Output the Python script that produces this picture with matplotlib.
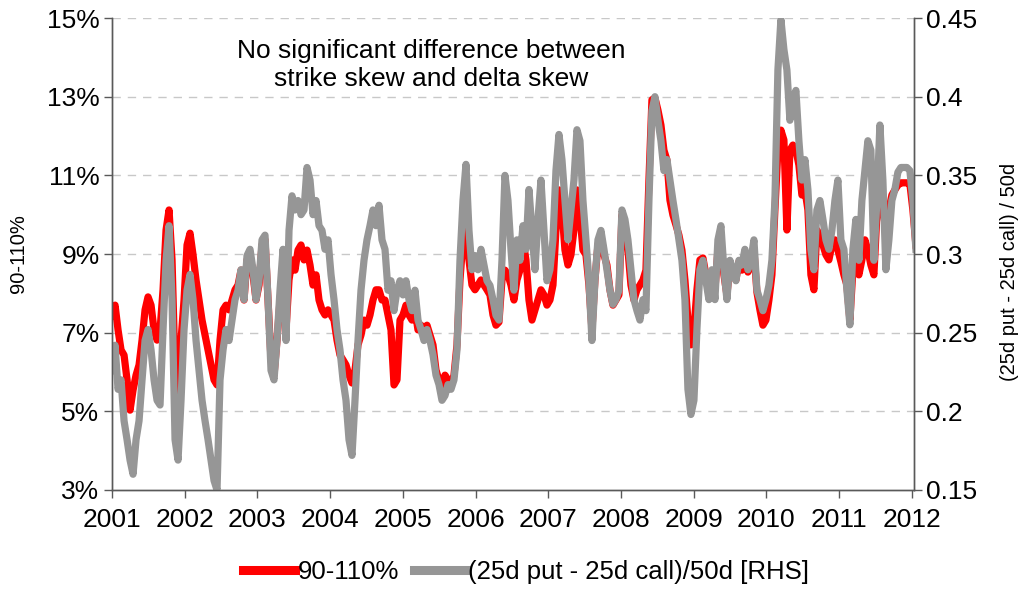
import numpy as np
import pandas as pd
import matplotlib
matplotlib.use("Agg")
import matplotlib.pyplot as plt
import matplotlib.dates as mdates
from matplotlib.ticker import FixedLocator, FuncFormatter

plt.rcParams['font.family'] = ['Liberation Sans', 'DejaVu Sans']

# ---- data ----
start_date = "2001-01-01"
end_date = "2012-01-22"

# (25d put - 25d call)/50d  [RHS]
delta_skew = [
    0.226, 0.242, 0.214, 0.220, 0.194, 0.182, 0.169, 0.160, 0.182, 0.194,
    0.220, 0.245, 0.252, 0.239, 0.220, 0.207, 0.204, 0.252, 0.296, 0.318,
    0.271, 0.182, 0.169, 0.207, 0.252, 0.277, 0.287, 0.271, 0.245, 0.226,
    0.207, 0.194, 0.182, 0.169, 0.156, 0.150, 0.220, 0.239, 0.252, 0.245,
    0.258, 0.271, 0.277, 0.290, 0.271, 0.299, 0.303, 0.290, 0.271, 0.283,
    0.309, 0.312, 0.271, 0.226, 0.220, 0.245, 0.277, 0.303, 0.245, 0.315,
    0.337, 0.328, 0.334, 0.325, 0.328, 0.355, 0.347, 0.325, 0.334, 0.318,
    0.315, 0.303, 0.309, 0.287, 0.271, 0.252, 0.239, 0.220, 0.207, 0.182,
    0.172, 0.207, 0.245, 0.277, 0.296, 0.309, 0.318, 0.328, 0.318, 0.331,
    0.309, 0.303, 0.277, 0.283, 0.264, 0.277, 0.283, 0.274, 0.283, 0.271,
    0.264, 0.277, 0.258, 0.252, 0.245, 0.252, 0.245, 0.236, 0.223, 0.217,
    0.207, 0.210, 0.217, 0.214, 0.220, 0.239, 0.296, 0.334, 0.357, 0.315,
    0.290, 0.299, 0.290, 0.303, 0.293, 0.283, 0.280, 0.271, 0.261, 0.258,
    0.296, 0.350, 0.334, 0.303, 0.277, 0.309, 0.296, 0.318, 0.303, 0.341,
    0.315, 0.290, 0.322, 0.347, 0.315, 0.283, 0.290, 0.309, 0.353, 0.376,
    0.360, 0.334, 0.309, 0.328, 0.347, 0.379, 0.372, 0.334, 0.309, 0.283,
    0.245, 0.283, 0.309, 0.315, 0.303, 0.290, 0.277, 0.268, 0.271, 0.277,
    0.328, 0.322, 0.309, 0.290, 0.271, 0.264, 0.258, 0.271, 0.264, 0.334,
    0.391, 0.400, 0.385, 0.372, 0.353, 0.360, 0.347, 0.334, 0.322, 0.309,
    0.296, 0.271, 0.214, 0.198, 0.207, 0.252, 0.290, 0.296, 0.283, 0.271,
    0.290, 0.271, 0.309, 0.318, 0.290, 0.271, 0.296, 0.290, 0.283, 0.296,
    0.293, 0.303, 0.290, 0.296, 0.309, 0.277, 0.271, 0.264, 0.271, 0.280,
    0.296, 0.334, 0.417, 0.449, 0.430, 0.417, 0.385, 0.398, 0.404, 0.372,
    0.347, 0.360, 0.341, 0.303, 0.290, 0.328, 0.334, 0.322, 0.309, 0.303,
    0.315, 0.334, 0.347, 0.309, 0.303, 0.277, 0.255, 0.303, 0.322, 0.296,
    0.334, 0.353, 0.372, 0.366, 0.296, 0.334, 0.382, 0.347, 0.290, 0.309,
    0.334, 0.341, 0.352, 0.355, 0.355, 0.355, 0.353, 0.334, 0.303,
]

# 90-110% strike skew (LHS, %)
strike_skew = [
    7.45, 7.70, 7.07, 6.56, 6.43, 5.80, 5.03, 5.54, 5.92, 6.18,
    6.81, 7.58, 7.91, 7.70, 7.07, 6.81, 7.07, 8.09, 9.61, 10.12,
    8.85, 6.05, 5.29, 6.81, 7.83, 9.23, 9.53, 8.98, 8.34, 7.83,
    7.32, 6.94, 6.56, 6.18, 5.80, 5.67, 6.81, 7.58, 7.70, 7.58,
    7.83, 8.09, 8.21, 8.59, 7.83, 8.85, 8.98, 8.47, 7.83, 8.21,
    9.23, 9.36, 7.83, 6.31, 5.92, 6.81, 7.83, 8.59, 7.07, 8.34,
    8.85, 8.59, 9.10, 9.23, 8.85, 9.10, 8.72, 8.21, 8.47, 7.83,
    7.58, 7.45, 7.58, 7.45, 7.32, 6.81, 6.43, 6.31, 6.18, 5.92,
    5.72, 6.05, 6.69, 6.94, 7.32, 7.19, 7.45, 7.83, 8.09, 8.09,
    7.83, 7.83, 7.45, 7.07, 5.67, 5.80, 7.32, 7.45, 7.70, 7.45,
    7.32, 7.58, 7.07, 7.19, 6.94, 7.19, 6.94, 6.69, 6.05, 5.80,
    5.67, 5.92, 5.80, 5.67, 5.92, 6.69, 8.34, 9.36, 9.61, 8.85,
    8.21, 8.09, 8.21, 8.34, 8.21, 8.09, 7.96, 7.45, 7.19, 7.27,
    8.34, 8.59, 8.47, 8.21, 7.83, 8.34, 8.59, 9.36, 8.85, 7.83,
    7.32, 7.58, 7.83, 8.09, 7.96, 7.70, 7.83, 8.21, 9.61, 10.63,
    10.12, 9.10, 8.72, 8.98, 9.61, 10.63, 9.99, 9.10, 8.98, 8.21,
    7.07, 8.34, 9.23, 9.48, 8.98, 8.72, 8.09, 7.70, 7.83, 7.96,
    9.99, 9.61, 9.10, 8.21, 7.83, 8.09, 8.21, 8.34, 8.59, 10.88,
    12.92, 12.97, 12.66, 12.28, 11.64, 11.39, 10.37, 9.99, 9.74, 9.48,
    9.10, 8.34, 7.32, 6.69, 7.07, 8.09, 8.85, 8.90, 8.47, 7.96,
    8.54, 8.09, 9.10, 9.23, 8.47, 7.96, 8.72, 8.47, 8.34, 8.80,
    8.59, 8.98, 8.54, 8.72, 9.10, 8.03, 7.58, 7.19, 7.32, 7.83,
    8.47, 10.12, 11.64, 12.15, 11.90, 9.61, 11.64, 11.77, 11.64, 11.26,
    10.50, 10.63, 10.12, 8.47, 8.09, 9.61, 9.48, 9.23, 8.98, 8.85,
    9.23, 9.36, 9.10, 8.80, 8.47, 8.21, 7.32, 8.59, 8.72, 8.47,
    8.85, 9.36, 9.10, 8.72, 8.47, 9.99, 10.25, 10.12, 9.61, 10.12,
    10.50, 10.63, 10.75, 10.81, 10.81, 10.81, 10.78, 10.12, 9.23,
]

year_ticks = list(range(2001, 2013))
left_ticks = [3, 5, 7, 9, 11, 13, 15]
right_ticks = [0.15, 0.2, 0.25, 0.3, 0.35, 0.4, 0.45]

label_red = "90-110%"
label_gray = "(25d put - 25d call)/50d [RHS]"
ylabel_left = "90-110%"
ylabel_right = "(25d put - 25d call) / 50d"
note = "No significant difference between\nstrike skew and delta skew"

dates = pd.date_range(start_date, end_date, periods=len(delta_skew))

RED = "#FF0000"
GRAY = "#969696"
AXC = "#595959"

fig = plt.figure(figsize=(10.28, 5.93), dpi=100)
ax = fig.add_axes([0.109, 0.1737, 0.78, 0.7959])
ax2 = ax.twinx()

ax.plot(dates, strike_skew, color=RED, lw=5.2, zorder=2)
ax2.plot(dates, delta_skew, color=GRAY, lw=5.2, zorder=2)

ax.set_ylim(3, 15)
ax2.set_ylim(0.15, 0.45)
ax.set_xlim(pd.Timestamp("2001-01-01"), pd.Timestamp("2012-01-12"))

ax.yaxis.set_major_locator(FixedLocator(left_ticks))
ax.yaxis.set_major_formatter(FuncFormatter(lambda v, p: f"{v:.0f}%"))
ax2.yaxis.set_major_locator(FixedLocator(right_ticks))
ax2.yaxis.set_major_formatter(FuncFormatter(lambda v, p: f"{v:g}"))

xt = [mdates.date2num(pd.Timestamp(f"{y}-01-01")) for y in year_ticks]
ax.set_xticks(xt)
ax.set_xticklabels([str(y) for y in year_ticks])

for y in [5, 7, 9, 11, 13, 15]:
    ax.axhline(y, color="#C8C8C8", lw=1.0, dashes=(6, 5), zorder=1)

for a in (ax, ax2):
    for s in a.spines.values():
        s.set_color(AXC)
        s.set_linewidth(1.0)
    a.spines['top'].set_visible(False)

ax.tick_params(axis='x', direction='out', length=6, width=1, color=AXC,
               labelsize=19, pad=7)
ax.tick_params(axis='y', direction='out', length=6, width=1, color=AXC,
               labelsize=19, pad=3)
ax2.tick_params(axis='y', direction='out', length=6, width=1, color=AXC,
                labelsize=19, pad=3)

ax.set_ylabel(ylabel_left, fontsize=14.5)
ax.yaxis.set_label_coords(-0.105, 0.5)
ax2.set_ylabel(ylabel_right, fontsize=14.5)
ax2.yaxis.set_label_coords(1.108, 0.462)

ax.text(0.398, 0.955, note, transform=ax.transAxes, ha='center', va='top',
        fontsize=19, linespacing=1.2)

handles = [plt.Line2D([], [], color=RED, lw=6.5), plt.Line2D([], [], color=GRAY, lw=6.5)]
fig.legend(handles, [label_red, label_gray], loc='center', ncol=2,
           bbox_to_anchor=(0.512, 0.035), frameon=False, fontsize=18.5,
           handlelength=2.0, handletextpad=0.1, columnspacing=0.6)

fig.savefig("out.png", dpi=100)
